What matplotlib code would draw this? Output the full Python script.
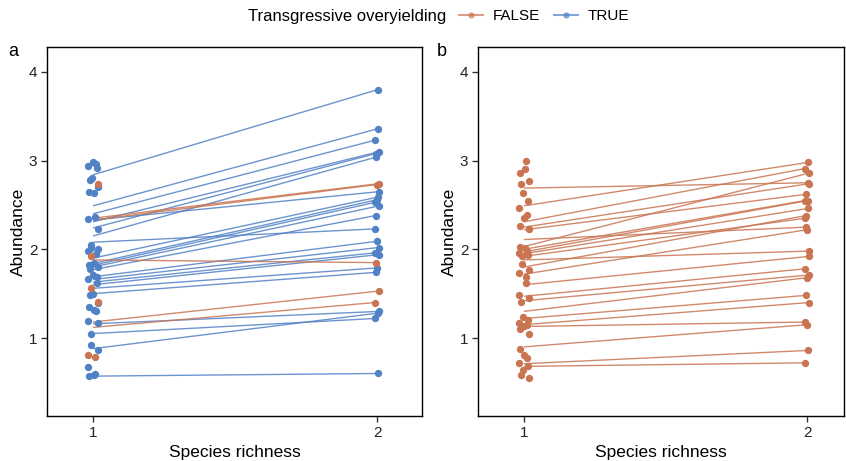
import numpy as np
import matplotlib
matplotlib.use("Agg")
import matplotlib.pyplot as plt
from matplotlib.lines import Line2D

plt.rcParams["font.family"] = ["Liberation Sans", "DejaVu Sans"]

ORANGE = "#C97552"
BLUE = "#5282C6"

# ---- panel a: monoculture abundances (richness 1)
a_mono_true = [2.98, 2.96, 2.94, 2.92, 2.80, 2.78, 2.70, 2.65, 2.63, 2.36,
               2.34, 2.23, 2.05, 2.02, 2.00, 1.98, 1.95, 1.84, 1.82, 1.80,
               1.78, 1.71, 1.69, 1.67, 1.62, 1.50, 1.48, 1.39, 1.35, 1.32,
               1.30, 1.19, 1.17, 1.05, 0.92, 0.86, 0.67, 0.59, 0.58, 0.57]
a_mono_false = [2.74, 1.92, 1.56, 1.41, 0.81, 0.79]

# ---- panel a: mixtures, expected (richness 1) -> observed (richness 2)
a_start_true = [2.84, 2.49, 2.40, 2.31, 2.24, 2.15, 2.33, 2.08, 1.90, 1.84,
                1.82, 1.80, 1.77, 1.69, 1.66, 1.63, 1.60, 1.56, 1.50, 1.16,
                1.05, 0.88, 0.57]
a_end_true = [3.80, 3.36, 3.23, 3.10, 3.08, 3.04, 2.65, 2.23, 2.59, 2.56,
              2.53, 2.49, 2.38, 2.09, 2.02, 1.96, 1.94, 1.79, 1.74, 1.30,
              1.22, 1.28, 0.60]
a_start_false = [2.35, 2.33, 1.88, 1.18, 1.12]
a_end_false = [2.74, 2.73, 1.85, 1.53, 1.40]

# ---- panel b: all FALSE
b_mono = [2.99, 2.91, 2.86, 2.77, 2.74, 2.63, 2.55, 2.47, 2.39, 2.35,
          2.26, 2.23, 2.03, 2.01, 1.98, 1.96, 1.94, 1.92, 1.83, 1.77,
          1.73, 1.69, 1.62, 1.49, 1.45, 1.41, 1.24, 1.20, 1.17, 1.15,
          1.13, 1.10, 1.05, 0.88, 0.81, 0.77, 0.72, 0.68, 0.64, 0.58, 0.55]
b_start = [2.69, 2.49, 2.31, 2.25, 2.22, 2.11, 2.03, 2.00, 1.97, 1.95,
           1.92, 1.88, 1.80, 1.72, 1.60, 1.47, 1.42, 1.30, 1.22, 1.15,
           1.13, 0.90, 0.71, 0.68]
b_end = [2.75, 2.98, 2.91, 2.74, 2.62, 2.25, 2.86, 2.55, 2.55, 2.46,
         2.35, 1.98, 2.38, 2.22, 1.92, 1.78, 1.71, 1.68, 1.48, 1.40,
         1.18, 1.15, 0.86, 0.72]


def jit(n, amp, phase=0.0):
    # deterministic horizontal spread so overlapping points stay visible
    return amp * np.sin(np.arange(n) * 2.39 + phase)


def draw_pairs(ax, start, end, color, phase):
    start = np.asarray(start); end = np.asarray(end)
    x2 = 2 + jit(len(end), 0.008, phase)
    for y0, y1, xe in zip(start, end, x2):
        ax.plot([1.0, xe], [y0, y1], color=color, lw=1.0, alpha=0.85,
                solid_capstyle="butt", zorder=2)
    ax.scatter(x2, end, s=28, color=color, lw=0, zorder=3)


def draw_mono(ax, vals, color, phase):
    vals = np.asarray(vals)
    ax.scatter(1 + jit(len(vals), 0.018, phase), vals, s=28, color=color,
               lw=0, zorder=3)


fig = plt.figure(figsize=(8.46, 4.61), dpi=100)
W, H = 846, 461
ax_a = fig.add_axes([47 / W, 1 - 416 / H, 375 / W, 369 / H])
ax_b = fig.add_axes([478 / W, 1 - 416 / H, 366 / W, 369 / H])

draw_mono(ax_a, a_mono_true, BLUE, 0.0)
draw_mono(ax_a, a_mono_false, ORANGE, 1.1)
draw_pairs(ax_a, a_start_true, a_end_true, BLUE, 0.3)
draw_pairs(ax_a, a_start_false, a_end_false, ORANGE, 0.9)

draw_mono(ax_b, b_mono, ORANGE, 0.5)
draw_pairs(ax_b, b_start, b_end, ORANGE, 0.2)

xr = (1 - 46 / 284, 2 + 45 / 284)
for ax, lab, xl in [(ax_a, "a", xr), (ax_b, "b", (xr[0], 2 + 37 / 284))]:
    ax.set_xlim(*xl)
    ax.set_ylim(1 - 78 / 88.7, 1 + 291 / 88.7)
    ax.set_xticks([1, 2])
    ax.set_yticks([1, 2, 3, 4])
    ax.tick_params(direction="out", length=4, width=1, color="#333333",
                   labelsize=11, labelcolor="#222222", pad=3)
    for s in ax.spines.values():
        s.set_linewidth(1.0)
        s.set_color("black")
    ax.set_xlabel("Species richness", fontsize=12.5, labelpad=4)
    ax.set_ylabel("Abundance", fontsize=12.5, labelpad=2)

fig.text(8 / W, 1 - 52 / H, "a", fontsize=13, va="center", ha="left")
fig.text(437 / W, 1 - 52 / H, "b", fontsize=13, va="center", ha="left")

# legend across the top
fig.text(446 / W, 1 - 16 / H, "Transgressive overyielding", fontsize=12,
         ha="right", va="center")
handles = [Line2D([], [], color=c, lw=1.5, alpha=0.7, marker="o", ms=4.5,
                  markeredgewidth=0) for c in (ORANGE, BLUE)]
fig.legend(handles, ["FALSE", "TRUE"], ncol=2, frameon=False,
           loc="center left", bbox_to_anchor=(459 / W, 1 - 16 / H),
           fontsize=11, handlelength=1.6, handletextpad=0.6,
           columnspacing=0.9, borderaxespad=0, borderpad=0)

fig.savefig("out.png", dpi=100)
